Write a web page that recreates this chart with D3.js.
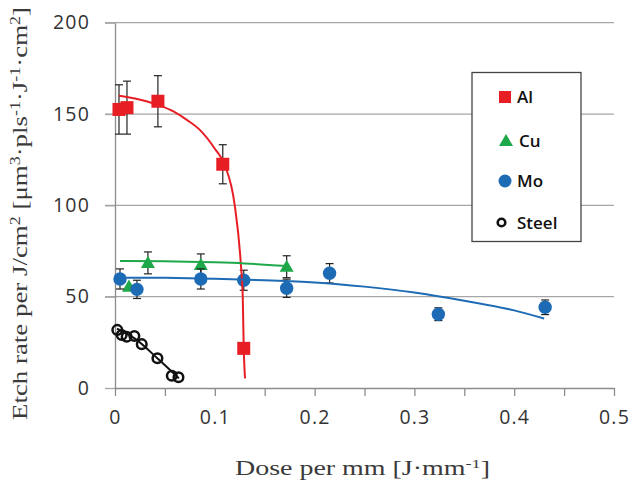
<!DOCTYPE html>
<html>
<head>
<meta charset="utf-8">
<script src="https://cdn.jsdelivr.net/npm/d3@7"></script>
<style>
  body { margin: 0; background: #fff; }
  svg { display: block; }
</style>
</head>
<body>
<svg width="630" height="482"></svg>
<script>
// Data
var alX = [0.004, 0.012, 0.043, 0.108, 0.129];
var alY = [152.5, 153.5, 157, 122.5, 21.7];
var alErr = [13.5, 14.5, 14, 10.7, 0];

var cuX = [0.014, 0.033, 0.086, 0.172];
var cuY = [55.5, 68.5, 67.4, 66.4];
var cuErr = [0, 6, 6, 6];

var moX = [0.005, 0.022, 0.086, 0.129, 0.172, 0.215, 0.324, 0.431];
var moY = [59.7, 54, 59.7, 59, 54.6, 62.8, 40.4, 44.2];
var moErr = [5.5, 5, 5.5, 5.5, 5, 5.3, 3.5, 4];

var stX = [0.0023, 0.0067, 0.0117, 0.0194, 0.0268, 0.0425, 0.0569, 0.0636];
var stY = [31.8, 29.0, 28.1, 28.5, 24.0, 16.3, 6.7, 5.9];

// fitted curves
var alFitX = [0.004, 0.02, 0.043, 0.059, 0.072, 0.085, 0.1, 0.11, 0.12, 0.126, 0.128, 0.129, 0.1303];
var alFitY = [160, 158.5, 155, 151.3, 146.8, 141.3, 131, 122, 100, 68.6, 50, 21.7, 5.3];
var cuFitX = [0.005, 0.05, 0.1, 0.13, 0.172];
var cuFitY = [69.5, 69.4, 68.8, 68.2, 66.8];
var moFitX = [0.01, 0.05, 0.1, 0.15, 0.2, 0.25, 0.3, 0.35, 0.4, 0.43];
var moFitY = [60.4, 60.3, 59.8, 59, 57.8, 55.5, 52.3, 47.8, 42.5, 38];
var stFitX = [0.002, 0.02, 0.043, 0.064];
var stFitY = [32.5, 27, 16, 5.3];

var xTicks = [0, 0.1, 0.2, 0.3, 0.4, 0.5];
var xMinorTicks = [0, 0.05, 0.1, 0.15, 0.2, 0.25, 0.3, 0.35, 0.4, 0.45, 0.5];
var yTicks = [0, 50, 100, 150, 200];

var legendNames = ["Al", "Cu", "Mo", "Steel"];

var RED = "#e81e25", GREEN = "#1fa84a", BLUE = "#1d6bb5";

var svg = d3.select("svg");

var x = d3.scaleLinear().domain([0, 0.5]).range([115, 614]);
var y = d3.scaleLinear().domain([0, 200]).range([388, 22.7]);

function zip(xs, ys, es) {
	return xs.map((v, i) => ({ x: v, y: ys[i], e: es ? es[i] : 0 }));
}

// Gridlines
svg.append("g")
	.selectAll("line")
	.data(yTicks.filter((d) => d > 0))
	.enter().append("line")
	.attr("x1", 105).attr("x2", x(0.5))
	.attr("y1", (d) => y(d)).attr("y2", (d) => y(d))
	.attr("stroke", "#a6a6a6")
	.attr("stroke-width", 1.3);

// Y axis
var yAxis = svg.append("g")
	.attr("transform", "translate(" + x(0) + ",0)")
	.call(d3.axisLeft(y).tickValues(yTicks).tickSize(10).tickSizeOuter(0));
yAxis.select(".domain").attr("stroke", "#8c8c8c").attr("stroke-width", 1.3);
yAxis.selectAll(".tick line").attr("stroke", "#a6a6a6").attr("stroke-width", 1.3);
yAxis.selectAll(".tick text")
	.attr("x", -25)
	.attr("font-family", "'Open Sans', sans-serif")
	.attr("font-size", 19.5)
	.attr("letter-spacing", 1.2)
	.attr("fill", "#333");

// X axis
var xAxis = svg.append("g")
	.attr("transform", "translate(0," + y(0) + ")")
	.call(d3.axisBottom(x).tickValues(xMinorTicks).tickSize(8).tickSizeOuter(0)
		.tickFormat((d) => xTicks.some((t) => Math.abs(t - d) < 1e-9) ? d3.format("")(+d.toFixed(1)) : ""));
xAxis.select(".domain").attr("stroke", "#8c8c8c").attr("stroke-width", 1.3);
xAxis.selectAll(".tick line").attr("stroke", "#8c8c8c").attr("stroke-width", 1.3);
xAxis.selectAll(".tick text")
	.attr("y", 22)
	.attr("font-family", "'Open Sans', sans-serif")
	.attr("font-size", 19.5)
	.attr("letter-spacing", 1.2)
	.attr("fill", "#333");

// Error bars
function errorBars(data) {
	var g = svg.append("g")
		.attr("stroke", "#222")
		.attr("stroke-width", 1.2);
	var d = data.filter((p) => p.e > 0);
	g.selectAll(".v").data(d).enter().append("line")
		.attr("x1", (p) => x(p.x)).attr("x2", (p) => x(p.x))
		.attr("y1", (p) => y(p.y - p.e)).attr("y2", (p) => y(p.y + p.e));
	[-1, 1].forEach((s) => {
		g.selectAll(".c" + s).data(d).enter().append("line")
			.attr("x1", (p) => x(p.x) - 4).attr("x2", (p) => x(p.x) + 4)
			.attr("y1", (p) => y(p.y + s * p.e)).attr("y2", (p) => y(p.y + s * p.e));
	});
}

var alData = zip(alX, alY, alErr);
var cuData = zip(cuX, cuY, cuErr);
var moData = zip(moX, moY, moErr);
var stData = zip(stX, stY);

var tri = d3.symbol().type(d3.symbolTriangle).size(85);

// Al
errorBars(alData);
svg.append("g").selectAll("rect").data(alData).enter().append("rect")
	.attr("x", (d) => x(d.x) - 6.5).attr("y", (d) => y(d.y) - 6.5)
	.attr("width", 13).attr("height", 13)
	.attr("fill", RED);

// Cu
errorBars(cuData);
svg.append("g").selectAll("path").data(cuData).enter().append("path")
	.attr("d", tri)
	.attr("transform", (d) => "translate(" + x(d.x) + "," + (y(d.y) + 1) + ")")
	.attr("fill", GREEN);

// Mo
errorBars(moData);
svg.append("g").selectAll("circle").data(moData).enter().append("circle")
	.attr("cx", (d) => x(d.x)).attr("cy", (d) => y(d.y))
	.attr("r", 6.7)
	.attr("fill", BLUE);

// Steel
svg.append("g").selectAll("circle").data(stData).enter().append("circle")
	.attr("cx", (d) => x(d.x)).attr("cy", (d) => y(d.y))
	.attr("r", 4.8)
	.attr("fill", "none")
	.attr("stroke", "#111")
	.attr("stroke-width", 2.5);

// Fit curves
var line = d3.line().x((d) => x(d.x)).y((d) => y(d.y)).curve(d3.curveMonotoneX);
[[alFitX, alFitY, RED], [cuFitX, cuFitY, GREEN], [moFitX, moFitY, BLUE], [stFitX, stFitY, "#111"]]
	.forEach(([fx, fy, c]) => {
		svg.append("path")
			.datum(zip(fx, fy))
			.attr("d", line)
			.attr("fill", "none")
			.attr("stroke", c)
			.attr("stroke-width", 2);
	});

// Legend
var legend = svg.append("g");
legend.append("rect")
	.attr("x", 472).attr("y", 72.5)
	.attr("width", 109).attr("height", 169)
	.attr("fill", "#fff")
	.attr("stroke", "#444")
	.attr("stroke-width", 1.3);

var legY = [97, 141, 181, 222.5];
legendNames.forEach((name, i) => {
	var ly = legY[i];
	if (i == 0) {
		legend.append("rect").attr("x", 499).attr("y", ly - 6).attr("width", 12).attr("height", 12).attr("fill", RED);
	} else if (i == 1) {
		legend.append("path").attr("d", tri).attr("transform", "translate(506," + (ly + 1) + ")").attr("fill", GREEN);
	} else if (i == 2) {
		legend.append("circle").attr("cx", 505).attr("cy", ly).attr("r", 6.5).attr("fill", BLUE);
	} else {
		legend.append("circle").attr("cx", 501.5).attr("cy", ly).attr("r", 3.8)
			.attr("fill", "none").attr("stroke", "#111").attr("stroke-width", 2.6);
	}
	legend.append("text")
		.attr("x", i == 1 ? 519 : 517)
		.attr("y", ly + 6)
		.attr("font-family", "'Open Sans', sans-serif")
		.attr("font-size", 17)
		.attr("font-weight", 600)
		.attr("fill", "#111")
		.text(name);
});

// Axis titles
var xt = svg.append("text")
	.attr("x", 235).attr("y", 475)
	.attr("font-family", "'Liberation Serif', serif")
	.attr("font-size", 20)
	.attr("fill", "#3a3a3a")
	.attr("textLength", 255)
	.attr("lengthAdjust", "spacingAndGlyphs");
xt.append("tspan").text("Dose per mm [J·mm");
xt.append("tspan").attr("baseline-shift", "super").attr("font-size", 13).text("-1");
xt.append("tspan").text("]");

var yt = svg.append("text")
	.attr("transform", "translate(27,420) rotate(-90)")
	.attr("x", 0).attr("y", 0)
	.attr("font-family", "'Liberation Serif', serif")
	.attr("font-size", 21)
	.attr("fill", "#3a3a3a")
	.attr("textLength", 413)
	.attr("lengthAdjust", "spacingAndGlyphs");
[["Etch rate per J/cm", 0], ["2", 1], [" [μm", 0], ["3", 1], ["·pls", 0], ["-1", 1], ["·J", 0], ["-1", 1], ["·cm", 0], ["2", 1], ["]", 0]]
	.forEach(([t, sup]) => {
		var s = yt.append("tspan").text(t);
		if (sup) s.attr("baseline-shift", "super").attr("font-size", 14);
	});
</script>
</body>
</html>
